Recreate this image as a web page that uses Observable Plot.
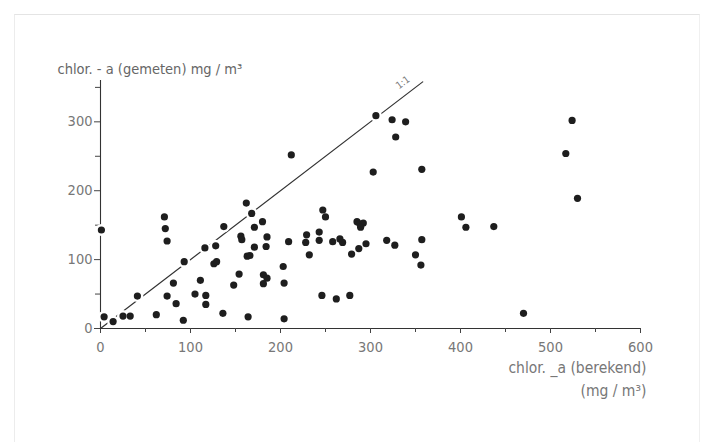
<!DOCTYPE html>
<html>
<head>
<meta charset="utf-8">
<script src="https://cdn.jsdelivr.net/npm/d3@7"></script>
<script src="https://cdn.jsdelivr.net/npm/@observablehq/plot@0.6"></script>
<style>
  html, body { margin: 0; padding: 0; background: #fff; }
  #wrap { position: relative; width: 712px; height: 442px; overflow: hidden; }
  #frame { position: absolute; left: 14px; top: 14px; width: 684px; height: 440px;
           border-top: 1px solid #e4e4e4; border-left: 1px solid #ececec; border-right: 1px solid #f0f0f0; pointer-events: none; }
</style>
</head>
<body>
<div id="wrap"><div id="frame"></div></div>
<script>
// calculated chlorophyll-a (berekend), mg/m3
const berekend = [1,4,14,25,33,41,62,71,72,74,81,74,84,93,92,105,111,117,117,116,
  212,162,168,180,137,171,156,157,185,128,171,184,209,229,228,243,243,232,163,166,
  126,129,154,148,181,185,181,203,204,136,164,204,247,250,246,262,277,306,303,258,
  266,269,279,287,295,285,288,292,289,324,339,328,357,318,327,350,357,356,401,406,
  437,470,517,524,530];
// measured chlorophyll-a (gemeten), mg/m3
const gemeten = [143,17,10,18,18,47,20,162,145,127,66,47,36,97,12,50,70,48,35,117,
  252,182,167,155,148,147,134,129,133,120,118,119,126,136,125,140,128,107,105,106,
  94,97,79,63,78,73,65,90,66,22,17,14,172,162,48,43,48,309,227,126,
  130,125,108,116,123,155,152,153,147,303,300,278,231,128,121,107,129,92,162,147,
  148,22,254,302,189];
const diagX = [0, 358];
const diagY = [0, 358];
const xMajor = [0,100,200,300,400,500,600];
const xMinor = [50,150,250,350,450,550];
const yMajor = [0,100,200,300];
const yMinor = [50,150,250,350];
const yTitle = "chlor. - a (gemeten) mg / m³";
const xTitle1 = "chlor. _a (berekend)";
const xTitle2 = "(mg / m³)";
const lineLabel = "1:1";

const pts = berekend.map((b, i) => ({x: b, y: gemeten[i]}));
const diag = diagX.map((x, i) => ({x, y: diagY[i]}));

const font = "'Liberation Sans Narrow', 'DejaVu Sans Condensed', 'Liberation Sans', sans-serif";

const chart = Plot.plot({
  width: 712,
  height: 442,
  marginLeft: 100,
  marginRight: 72,
  marginTop: 80,
  marginBottom: 114,
  style: {fontFamily: font, color: "#4a4a4a", background: "transparent", overflow: "visible"},
  x: {domain: [0, 600]},
  y: {domain: [0, 360]},
  marks: [
    Plot.ruleX([0], {stroke: "#333", strokeWidth: 1.1}),
    Plot.ruleY([0], {stroke: "#333", strokeWidth: 1.1}),
    Plot.axisX({ticks: xMajor, tickSize: 5, tickPadding: 8, fontSize: 14.5, label: null, stroke: "#444", fill: "#777"}),
    Plot.axisX({ticks: xMinor, tickSize: 4, tickFormat: () => "", label: null, stroke: "#444"}),
    Plot.axisY({ticks: yMajor, tickSize: 6, tickPadding: 2, fontSize: 14.5, label: null, stroke: "#444", fill: "#777"}),
    Plot.axisY({ticks: yMinor, tickSize: 5, tickFormat: () => "", label: null, stroke: "#444"}),
    Plot.line(diag, {x: "x", y: "y", stroke: "#333", strokeWidth: 1.2}),
    Plot.dot(pts, {x: "x", y: "y", r: 6, fill: "white"}),
    Plot.dot(pts, {x: "x", y: "y", r: 3.6, fill: "#1e1e1e"}),
    Plot.text([lineLabel], {x: 336, y: 357, text: d => d, rotate: -37, fontSize: 10, fill: "#777"}),
    Plot.text([yTitle], {frameAnchor: "top-left", dx: -43, dy: -17, text: d => d, textAnchor: "start", fontSize: 14.5, fill: "#666"}),
    Plot.text([xTitle1], {frameAnchor: "bottom-right", dx: 6, dy: 44, text: d => d, textAnchor: "end", fontSize: 15.5, fill: "#777"}),
    Plot.text([xTitle2], {frameAnchor: "bottom-right", dx: 6, dy: 67, text: d => d, textAnchor: "end", fontSize: 15.5, fill: "#777"})
  ]
});
document.getElementById("wrap").appendChild(chart);
chart.style.position = "absolute";
chart.style.left = "0px";
chart.style.top = "0px";
</script>
</body>
</html>
